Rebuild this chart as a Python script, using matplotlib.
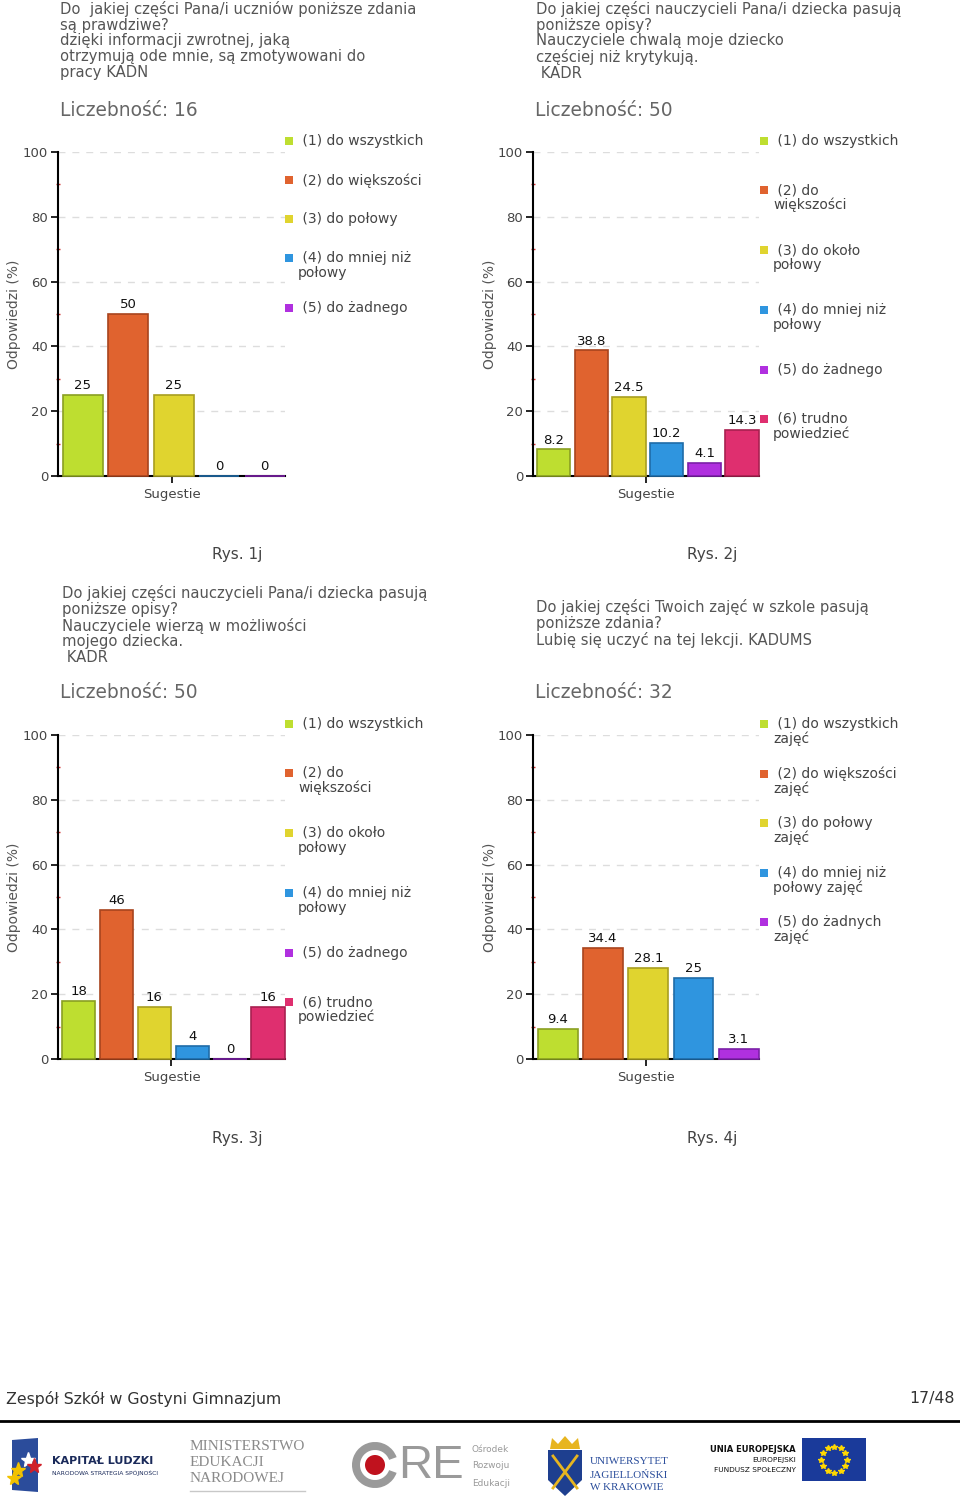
import matplotlib
matplotlib.use("Agg")
import matplotlib.pyplot as plt
import matplotlib.transforms as mtransforms
from matplotlib.patches import Rectangle, Circle, Polygon, Wedge
from matplotlib.lines import Line2D
from matplotlib.ticker import FixedLocator
import numpy as np

# === DATA ===
titles = [
    "Do  jakiej części Pana/i uczniów poniższe zdania\nsą prawdziwe?\ndzięki informacji zwrotnej, jaką\n"
    "otrzymują ode mnie, są zmotywowani do\npracy KADN",
    "Do jakiej części nauczycieli Pana/i dziecka pasują\nponiższe opisy?\nNauczyciele chwalą moje dziecko\n"
    "częściej niż krytykują.\n KADR",
    "Do jakiej części nauczycieli Pana/i dziecka pasują\nponiższe opisy?\nNauczyciele wierzą w możliwości\n"
    "mojego dziecka.\n KADR",
    "Do jakiej części Twoich zajęć w szkole pasują\nponiższe zdania?\nLubię się uczyć na tej lekcji. KADUMS",
]
counts = [16, 50, 50, 32]
figure_labels = ["Rys. 1j", "Rys. 2j", "Rys. 3j", "Rys. 4j"]

values_1 = [25, 50, 25, 0, 0]
values_2 = [8.2, 38.8, 24.5, 10.2, 4.1, 14.3]
values_3 = [18, 46, 16, 4, 0, 16]
values_4 = [9.4, 34.4, 28.1, 25, 3.1]

legend_1 = ["(1) do wszystkich", "(2) do większości", "(3) do połowy",
            "(4) do mniej niż\npołowy", "(5) do żadnego"]
legend_2 = ["(1) do wszystkich", "(2) do\nwiększości", "(3) do około\npołowy",
            "(4) do mniej niż\npołowy", "(5) do żadnego", "(6) trudno\npowiedzieć"]
legend_3 = legend_2
legend_4 = ["(1) do wszystkich\nzajęć", "(2) do większości\nzajęć", "(3) do połowy\nzajęć",
            "(4) do mniej niż\npołowy zajęć", "(5) do żadnych\nzajęć"]

x_label = "Sugestie"
y_label = "Odpowiedzi (%)"
footer_left = "Zespół Szkół w Gostyni Gimnazjum"
footer_right = "17/48"

colors = ["#BEDE30", "#E0632F", "#E0D42F", "#2F95DF", "#B030DF", "#DF2F6F"]
edges = ["#8A9F22", "#A8441E", "#A89E20", "#1F6CA8", "#7C20A8", "#A82050"]

# === LAYOUT (pixels) ===
W, H = 960, 1510
fig = plt.figure(figsize=(W / 100, H / 100), dpi=100)
px = mtransforms.Affine2D().scale(1 / W, -1 / H).translate(0, 1) + fig.transFigure

panels = [
    dict(vals=values_1, leg=legend_1, box=(58, 152, 285, 476), title=(60, 1), count=(60, 110),
         leg_x=289, leg_y=141, leg_gap=39, ylab_x=14, fig_lab=(237, 555)),
    dict(vals=values_2, leg=legend_2, box=(533, 152, 759, 476), title=(536, 1), count=(535, 110),
         leg_x=764, leg_y=141, leg_gap=49, ylab_x=490, fig_lab=(712, 555)),
    dict(vals=values_3, leg=legend_3, box=(58, 735, 285, 1059), title=(62, 585), count=(60, 693),
         leg_x=289, leg_y=724, leg_gap=49, ylab_x=14, fig_lab=(237, 1138)),
    dict(vals=values_4, leg=legend_4, box=(533, 735, 759, 1059), title=(536, 599), count=(535, 693),
         leg_x=764, leg_y=724, leg_gap=38.5, ylab_x=490, fig_lab=(712, 1138)),
]

for k, p in enumerate(panels):
    l, t, r, b = p["box"]
    ax = fig.add_axes([l / W, 1 - b / H, (r - l) / W, (b - t) / H])
    vals = p["vals"]
    n = len(vals)
    xs = np.arange(n)
    ax.bar(xs + 0.05, vals, width=0.88, color=colors[:n], edgecolor=edges[:n],
           linewidth=1.2, zorder=3, clip_on=False)
    for i, v in enumerate(vals):
        ax.annotate(f"{v:g}", (i + 0.05, v), xytext=(0, 2), textcoords="offset points",
                    ha="center", va="bottom", fontsize=9.5, color="#111111", zorder=4)
    ax.set_xlim(-0.5, n - 0.5)
    ax.set_ylim(0, 100)
    ax.set_yticks([0, 20, 40, 60, 80, 100])
    ax.yaxis.set_minor_locator(FixedLocator([10, 30, 50, 70, 90]))
    ax.tick_params(axis="y", which="major", length=5, width=1.2, color="black",
                   labelsize=9.5, labelcolor="#444444", pad=2)
    ax.tick_params(axis="y", which="minor", length=3, width=1, color="#D03030", direction="inout")
    ax.set_xticks([(n - 1) / 2])
    ax.set_xticklabels([""])
    ax.tick_params(axis="x", length=5, width=1.2, color="black")
    ax.set_xlabel(x_label, fontsize=9.5, color="#444444", labelpad=0)
    ax.yaxis.grid(True, linestyle=(0, (5, 5)), color="#DDDDDD", linewidth=1)
    ax.set_axisbelow(True)
    for s in ["top", "right"]:
        ax.spines[s].set_visible(False)
    for s in ["left", "bottom"]:
        ax.spines[s].set_linewidth(1.5)
        ax.spines[s].set_color("black")

    fig.text(p["ylab_x"], (t + b) / 2, y_label, transform=px, rotation=90,
             ha="center", va="center", fontsize=10, color="#555555")
    fig.text(p["title"][0], p["title"][1], titles[k], transform=px, ha="left", va="top",
             fontsize=10.6, color="#555555", linespacing=1.06)
    fig.text(p["count"][0], p["count"][1], f"Liczebność: {counts[k]}", transform=px,
             ha="left", va="center", fontsize=13.4, color="#666666")
    fig.text(p["fig_lab"][0], p["fig_lab"][1], figure_labels[k], transform=px,
             ha="center", va="center", fontsize=11, color="#444444")

    # legend
    y = p["leg_y"]
    for i, lab in enumerate(p["leg"]):
        fig.add_artist(Rectangle((p["leg_x"] - 4, y - 4), 8, 8, transform=px,
                                 facecolor=colors[i], edgecolor="none"))
        fig.text(p["leg_x"] + 9, y - 7, " " + lab, transform=px, ha="left", va="top",
                 fontsize=10, color="#444444", linespacing=1.08)
        y += p["leg_gap"] + 11 * lab.count("\n")

# footer
fig.text(6, 1399, footer_left, transform=px, ha="left", va="center", fontsize=11.3, color="#333333")
fig.text(955, 1399, footer_right, transform=px, ha="right", va="center", fontsize=11.3, color="#333333")
fig.add_artist(Line2D([0, 960], [1421, 1421], transform=px, color="black", linewidth=2))

# logos (simplified)
fig.add_artist(Polygon([(12, 1440), (38, 1438), (38, 1492), (12, 1490)], closed=True,
                       transform=px, facecolor="#2B4C9B", edgecolor="none"))
for sx, sy, sc in [(28, 1460, "white"), (34, 1466, "#D0202A"), (18, 1470, "#F2C200"), (14, 1478, "#F2C200")]:
    fig.add_artist(Line2D([sx], [sy], marker="*", markersize=11, color=sc, transform=px))
fig.text(52, 1461, "KAPITAŁ LUDZKI", transform=px, ha="left", va="center", fontsize=8,
         fontweight="bold", color="#1A2A5A")
fig.text(52, 1473, "NARODOWA STRATEGIA SPÓJNOŚCI", transform=px, ha="left", va="center",
         fontsize=4.3, color="#1A2A5A")

for i, w in enumerate(["MINISTERSTWO", "EDUKACJI", "NARODOWEJ"]):
    fig.text(190, 1447 + 16 * i, w, transform=px, ha="left", va="center", fontsize=11,
             family="Liberation Serif", color="#8A8A8A")
fig.add_artist(Line2D([190, 305], [1491, 1491], transform=px, color="#C8C8C8", linewidth=1))

fig.add_artist(Wedge((375, 1465), 23, 20, 340, width=8, transform=px, facecolor="#9A9A9A",
                     edgecolor="none"))
fig.add_artist(Circle((375, 1465), 10, transform=px, facecolor="#C0121E", edgecolor="none"))
fig.text(398, 1466, "RE", transform=px, ha="left", va="center", fontsize=34,
         color="#9A9A9A", family="Liberation Sans")
for i, w in enumerate(["Ośrodek", "Rozwoju", "Edukacji"]):
    fig.text(472, 1449 + 17 * i, w, transform=px, ha="left", va="center", fontsize=6.5,
             color="#9A9A9A")

fig.add_artist(Polygon([(548, 1450), (582, 1450), (582, 1480), (565, 1496), (548, 1480)],
                       closed=True, transform=px, facecolor="#1E3F8F", edgecolor="none"))
fig.add_artist(Polygon([(550, 1449), (552, 1438), (558, 1444), (565, 1436), (572, 1444),
                        (578, 1438), (580, 1449)], closed=True, transform=px,
                       facecolor="#E7B520", edgecolor="none"))
fig.add_artist(Line2D([553, 577], [1456, 1488], transform=px, color="#E7B520", linewidth=2))
fig.add_artist(Line2D([577, 553], [1456, 1488], transform=px, color="#E7B520", linewidth=2))
for i, w in enumerate(["UNIWERSYTET", "JAGIELLOŃSKI", "W KRAKOWIE"]):
    fig.text(590, 1462 + 13 * i, w, transform=px, ha="left", va="center", fontsize=8,
             family="Liberation Serif", color="#2A4D9B")

fig.text(796, 1449, "UNIA EUROPEJSKA", transform=px, ha="right", va="center", fontsize=6,
         fontweight="bold", color="#111111")
fig.text(796, 1460, "EUROPEJSKI", transform=px, ha="right", va="center", fontsize=5.3,
         color="#111111")
fig.text(796, 1470, "FUNDUSZ SPOŁECZNY", transform=px, ha="right", va="center", fontsize=5.3,
         color="#111111")
fig.add_artist(Rectangle((802, 1438), 64, 43, transform=px, facecolor="#1A3A9A", edgecolor="none"))
ang = np.linspace(0, 2 * np.pi, 13)[:-1]
fig.add_artist(Line2D(834 + 13 * np.cos(ang), 1459.5 + 13 * np.sin(ang), linestyle="none",
                      marker="*", markersize=4, color="#FFD800", transform=px))

fig.savefig("out.png", dpi=100)
